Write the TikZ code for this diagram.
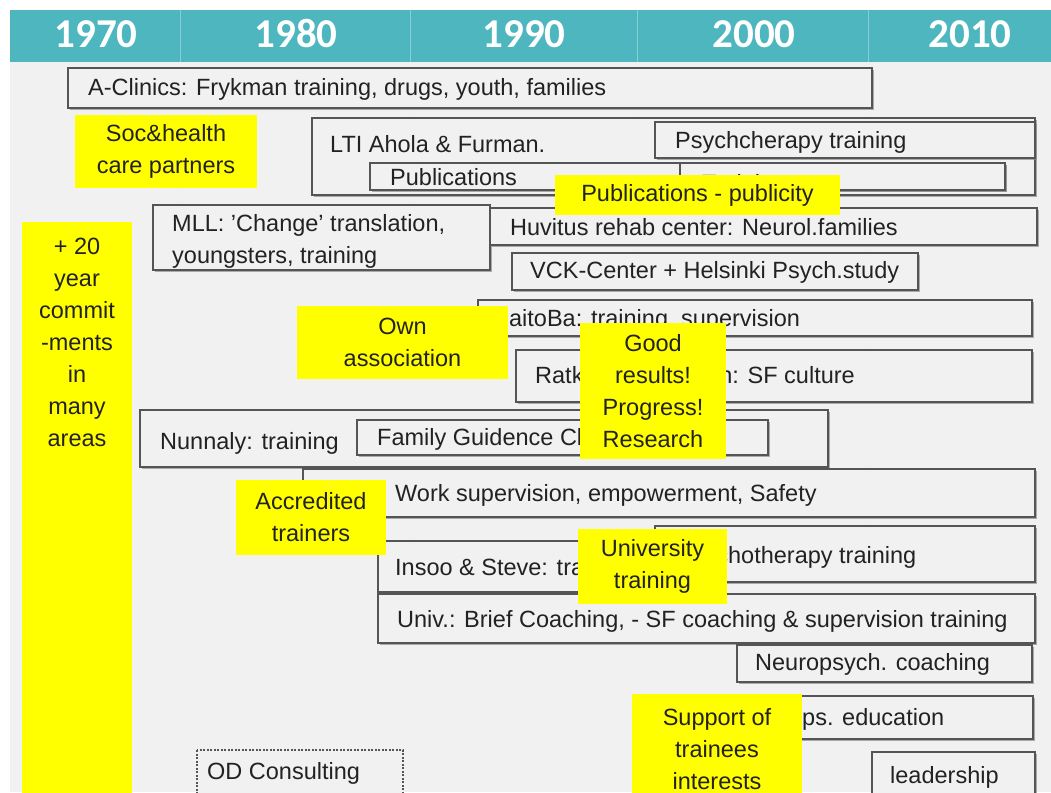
\documentclass[tikz,border=0pt]{standalone}
\usepackage{fontspec}
\setmainfont{Liberation Sans}
\newfontfamily\yrfont{Carlito}
\usetikzlibrary{shadows}
\definecolor{teal1}{HTML}{4DB6BE}
\definecolor{teal2}{HTML}{86CFD4}
\definecolor{bgc}{HTML}{F1F1F1}
\definecolor{edge}{HTML}{555555}
\definecolor{ink}{HTML}{222222}
\definecolor{yel}{HTML}{FFFF00}
\tikzset{
  bx/.style={fill=bgc, draw=edge, line width=1.1pt,
    drop shadow={shadow xshift=1.8pt, shadow yshift=-1.8pt, fill=black!45, opacity=0.7}},
  dbx/.style={fill=bgc, draw=edge, line width=1.1pt, dash pattern=on 2pt off 1.5pt},
  tx/.style={text=ink, font=\fontsize{23.5}{32}\selectfont, inner sep=0pt, anchor=base west},
  ybox/.style={fill=yel, draw=none, text=ink, align=center, inner sep=0pt,
    font=\fontsize{23.5}{32}\selectfont},
  yr/.style={text=white, font=\yrfont\bfseries\fontsize{41}{41}\selectfont, inner sep=0pt, anchor=base}
}
\begin{document}
\begin{tikzpicture}[x=1pt,y=-1pt]
\useasboundingbox (0,0) rectangle (1051,792);
\fill[white] (0,0) rectangle (1051,792);
% background
\fill[bgc] (10,62) rectangle (1051,792);
\foreach \xx in {180,410,637,868} \draw[black!6, line width=0.8pt] (\xx,62) -- (\xx,792);
% header
\fill[teal1] (10,10) rectangle (1051,62);
\foreach \xx in {180,410,637,868} \draw[teal2, line width=1pt] (\xx,10) -- (\xx,62);
\node[yr] (y1970) at (96,48) {1970};
\node[yr] (y1980) at (296,48) {1980};
\node[yr] (y1990) at (524,48) {1990};
\node[yr] (y2000) at (754,48) {2000};
\node[yr] (y2010) at (970,48) {2010};

% A-Clinics
\path[bx] (68,68) rectangle (872,108);
\node[tx] (aclin) at (88,95) {A-Clinics: Frykman training, drugs, youth, families};

% LTI
\path[bx] (312,118) rectangle (1035,195);
\node[tx] (lti) at (330,152) {LTI Ahola \& Furman.};
\path[bx] (370,163) rectangle (1005,190);
\node[tx] (pub) at (390,185) {Publications};
\path[bx] (680,163) rectangle (1005,190);
\node[tx] (trn) at (702,191) {Training};
\path[bx] (655,122) rectangle (1035,158);
\node[tx] (psy1) at (675,148) {Psychcherapy training};

% MLL / Huvitus / VCK
\path[bx] (153,205) rectangle (490,270);
\node[tx] (mll1) at (172,231) {MLL: 'Change' translation,};
\node[tx] (mll2) at (172,263) {youngsters, training};
\path[bx] (490,208) rectangle (1037,245);
\node[tx] (huv) at (510,235) {Huvitus rehab center: Neurol.families};
\path[bx] (512,253) rectangle (918,290);
\node[tx] (vck) at (530,278) {VCK-Center + Helsinki Psych.study};

% RaitoBa / Ratkes
\path[bx] (478,300) rectangle (1032,336);
\node[tx] (rai) at (492,326) {RaitoBa: training, supervision};
\path[bx] (516,350) rectangle (1032,402);
\node[tx] (rat) at (535,383) {Ratkes Foundation: SF culture};

% Nunnaly / Family
\path[bx] (140,410) rectangle (828,467);
\node[tx] (nun) at (160,449) {Nunnaly: training};
\path[bx] (357,420) rectangle (768,455);
\node[tx] (fam) at (377,445) {Family Guidence Clinics};

% Work supervision
\path[bx] (303,469) rectangle (1035,517);
\node[tx] (work) at (395,501) {Work supervision, empowerment, Safety};

% Insoo / Psych2 / Univ
\path[bx] (378,541) rectangle (700,592);
\node[tx] (ins) at (395,575) {Insoo \& Steve: training};
\path[bx] (655,526) rectangle (1035,582);
\node[tx] (psy2) at (677,563) {Psychotherapy training};
\path[bx] (378,594) rectangle (1035,643);
\node[tx] (univ) at (397,627) {Univ.: Brief Coaching, - SF coaching \& supervision training};

% Neuropsych
\path[bx] (737,645) rectangle (1032,682);
\node[tx] (neu) at (755,670) {Neuropsych. coaching};
\path[bx] (722,696) rectangle (1033,739);
\node[tx] (edu) at (738,725) {Neurops. education};

% bottom
\path[dbx] (197,750) rectangle (403,800);
\node[tx] (od) at (207,779) {OD Consulting};
\path[bx] (872,752) rectangle (1035,800);
\node[tx] (lead) at (890,783) {leadership};

% yellow boxes
\fill[yel] (22,222) rectangle (132,800);
\node[ybox, fill=none] (commit) at (77,342) {+ 20\\year\\commit\\-ments\\in\\many\\areas};
\node[ybox, minimum width=182pt, minimum height=73pt] (soc) at (166,151.5) {Soc\&health\\care partners};
\node[ybox, minimum width=285pt, minimum height=40pt] (pubp) at (697.5,195) {Publications - publicity};
\node[ybox, minimum width=211pt, minimum height=73pt] (own) at (402.5,342) {Own\\association};
\node[ybox, minimum width=146pt, minimum height=136pt] (good) at (653,391) {Good\\results!\\Progress!\\Research};
\node[ybox, minimum width=150pt, minimum height=75pt] (acc) at (311,517.5) {Accredited\\trainers};
\node[ybox, minimum width=149pt, minimum height=75pt] (uni) at (652.5,566) {University\\training};
\node[ybox, minimum width=170pt, minimum height=110pt] (sup) at (717,749) {Support of\\trainees\\interests};
\end{tikzpicture}
\end{document}
